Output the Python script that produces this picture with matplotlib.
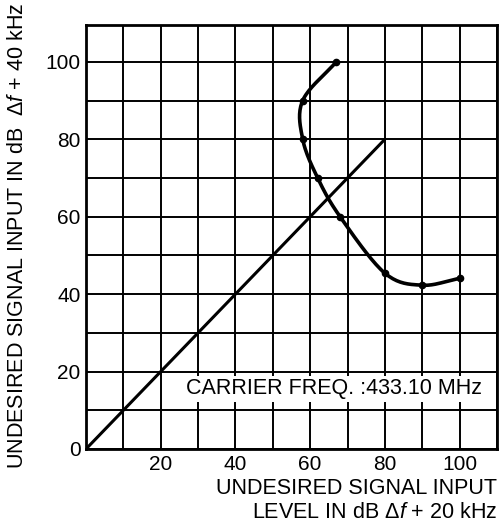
import numpy as np
from matplotlib import pyplot

pyplot.rcParams['font.family'] = ['Liberation Sans', 'DejaVu Sans']
pyplot.rcParams['mathtext.fontset'] = 'custom'
pyplot.rcParams['mathtext.it'] = 'Liberation Sans:italic'
pyplot.rcParams['mathtext.rm'] = 'Liberation Sans'

# measured response curve (x: dB at +20 kHz, y: dB at +40 kHz)
curve_x = [67, 58, 58, 62, 68, 80, 90, 100]
curve_y = [100, 90, 80, 70, 60, 45.4, 42.3, 44.1]

# reference line
ref_x = [0, 80]
ref_y = [0, 80]

xticks = [20, 40, 60, 80, 100]
yticks = [0, 20, 40, 60, 80, 100]


def smooth(xs, ys, n=20):
    # catmull-rom through the measured points, for drawing only
    p = np.column_stack([xs, ys]).astype(float)
    p = np.vstack([2 * p[0] - p[1], p, 2 * p[-1] - p[-2]])
    out = []
    for i in range(1, len(p) - 2):
        p0, p1, p2, p3 = p[i - 1], p[i], p[i + 1], p[i + 2]
        t = np.linspace(0, 1, n, endpoint=False)[:, None]
        seg = 0.5 * ((2 * p1) + (-p0 + p2) * t
                     + (2 * p0 - 5 * p1 + 4 * p2 - p3) * t ** 2
                     + (-p0 + 3 * p1 - 3 * p2 + p3) * t ** 3)
        out.append(seg)
    out.append(p[-2][None, :])
    out = np.vstack(out)
    return out[:, 0], out[:, 1]


fig = pyplot.figure(figsize=(4.99, 5.24), dpi=100)
ax = fig.add_axes([86 / 499, 75 / 524, 411 / 499, 424 / 524])
ax.set_xlim(0, 110)
ax.set_ylim(0, 109.5)

ax.set_xticks(np.arange(0, 111, 10), minor=True)
ax.set_yticks(np.arange(0, 110, 10), minor=True)
ax.set_xticks(xticks)
ax.set_yticks(yticks)
ax.grid(which='both', color='k', lw=1.4)
ax.tick_params(which='both', length=0, labelsize=15, pad=4)
for s in ax.spines.values():
    s.set_linewidth(2)

ax.plot(ref_x, ref_y, color='k', lw=2.2, solid_capstyle='butt')
sx, sy = smooth(curve_x, curve_y)
ax.plot(sx, sy, color='k', lw=2.6)
ax.plot(curve_x, curve_y, 'o', color='k', ms=4.5)

ax.text(106, 15.5, 'CARRIER FREQ. :433.10 MHz', fontsize=15.5, ha='right', va='center',
        bbox=dict(facecolor='white', edgecolor='none', pad=1.5))

fig.text(18 / 499, 1 - 236 / 524, 'UNDESIRED SIGNAL INPUT IN dB  $\\Delta f$ + 40 kHz',
         rotation=90, fontsize=15.5, ha='center', va='center')
fig.text(497 / 499, 1 - 488 / 524, 'UNDESIRED SIGNAL INPUT', fontsize=15.5, ha='right', va='center')
fig.text(497 / 499, 1 - 513 / 524, 'LEVEL IN dB $\\Delta f$ + 20 kHz', fontsize=15.5, ha='right', va='center')

fig.savefig('out.png', dpi=100)
